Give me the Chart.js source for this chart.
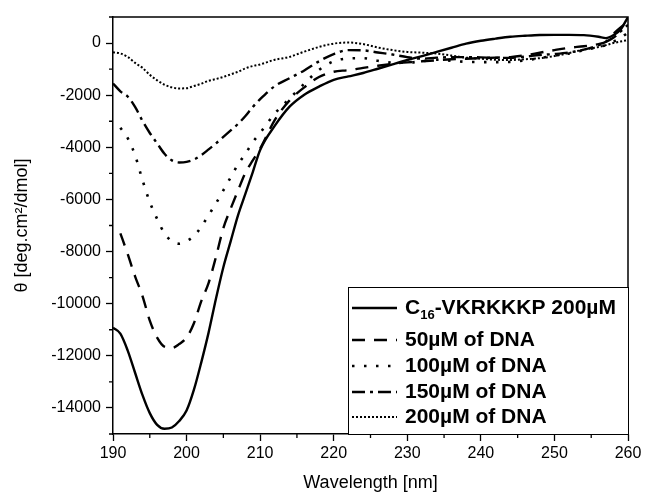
<!DOCTYPE html>
<html lang="en">
<head>
    <meta charset="UTF-8">
    <title>CD spectra</title>
    <style>
        html, body { margin: 0; padding: 0; background: #fff; }
        #wrap { width: 646px; height: 498px; }
    </style>
    <script src="https://cdn.jsdelivr.net/npm/chart.js"></script>
</head>
<body>
    <div id="wrap"><canvas id="cdChart" width="646" height="498"></canvas></div>

    <script>
        // wavelength points (nm)
        const wavelengths = [190,191,192,193,194,195,196,197,198,199,200,201,202,203,204,205,206,207,208,209,210,
            212,214,216,218,220,222,224,226,228,230,232,234,236,238,240,242,244,246,248,250,252,254,256,257,258,259,260];

        // molar ellipticity, deg.cm2/dmol
        const peptideOnly = [-10920,-11150,-11800,-12650,-13500,-14200,-14650,-14800,-14750,-14500,-14100,-13300,-12250,-11100,-9800,-8600,-7600,-6600,-5780,-4950,-4100,
            -3170,-2440,-1980,-1670,-1410,-1280,-1150,-985,-815,-650,-500,-340,-180,-20,90,170,240,280,310,315,315,305,240,190,300,520,1000];
        const dna50 = [null,-7300,-8100,-8950,-9700,-10650,-11300,-11650,-11700,-11550,-11300,-10750,-9900,-9200,-8200,-7100,-6350,-5650,-4980,-4500,-4050,
            -2950,-2200,-1700,-1300,-1100,-1040,-950,-870,-800,-740,-700,-660,-620,-600,-580,-560,-540,-470,-370,-270,-180,-120,-40,50,350,600,800];
        const dna100 = [null,-3250,-3650,-4300,-5250,-6100,-6750,-7300,-7600,-7700,-7600,-7400,-7050,-6600,-6150,-5650,-5150,-4650,-4250,-3800,-3450,
            -2700,-2130,-1560,-1030,-700,-590,-580,-680,-750,-750,-700,-640,-680,-720,-730,-730,-720,-660,-580,-480,-400,-270,-150,-80,50,200,400];
        const dna150 = [-1550,-1850,-2050,-2450,-2980,-3450,-3850,-4250,-4500,-4580,-4560,-4470,-4300,-4080,-3850,-3600,-3350,-3100,-2800,-2450,-2150,
            -1650,-1350,-1050,-700,-420,-270,-280,-360,-440,-540,-600,-560,-540,-540,-550,-570,-570,-520,-460,-420,-360,-250,-80,50,200,450,700];
        const dna200 = [-350,-400,-530,-760,-950,-1220,-1430,-1600,-1700,-1740,-1730,-1650,-1560,-1450,-1380,-1300,-1200,-1100,-970,-880,-820,
            -640,-530,-330,-150,-20,20,-40,-170,-270,-340,-370,-400,-480,-560,-600,-640,-650,-620,-580,-500,-380,-250,-150,-80,0,60,115];

        const seriesNames = ['C16-VKRKKKP 200\u00b5M', '50\u00b5M of DNA', '100\u00b5M of DNA', '150\u00b5M of DNA', '200\u00b5M of DNA'];
        const xTicks = [190,200,210,220,230,240,250,260];
        const yTicks = [-14000,-12000,-10000,-8000,-6000,-4000,-2000,0];

        const styles = [
            { dash: [], width: 2.4 },
            { dash: [13, 9], width: 2.4 },
            { dash: [2.5, 9.5], width: 2.6 },
            { dash: [13, 5, 3, 5], width: 2.4 },
            { dash: [2, 2], width: 2 }
        ];

        function pts(arr) {
            return wavelengths.map((w, i) => ({ x: w, y: arr[i] }));
        }

        const allSeries = [peptideOnly, dna50, dna100, dna150, dna200];
        const legendFont = '"Liberation Sans", Arial, sans-serif';

        // minor ticks, frame and in-plot legend
        const extrasPlugin = {
            id: 'extras',
            afterDraw(chart) {
                const ctx = chart.ctx;
                const a = chart.chartArea;
                const xs = chart.scales.x, ys = chart.scales.y;
                ctx.save();
                ctx.strokeStyle = '#000';
                ctx.lineWidth = 1.3;
                ctx.beginPath();
                for (let v = 195; v < 260; v += 10) {
                    const px = xs.getPixelForValue(v);
                    ctx.moveTo(px, a.bottom);
                    ctx.lineTo(px, a.bottom + 4);
                }
                for (let v = -15000; v <= 1000; v += 2000) {
                    const py = ys.getPixelForValue(v);
                    ctx.moveTo(a.left, py);
                    ctx.lineTo(a.left - 4, py);
                }
                ctx.stroke();

                // top and right frame
                ctx.lineWidth = 1.5;
                ctx.beginPath();
                ctx.moveTo(a.left, a.top);
                ctx.lineTo(a.right, a.top);
                ctx.lineTo(a.right, a.bottom);
                ctx.stroke();

                // legend box
                const bx = 348, by = 287, bw = a.right - bx, bh = a.bottom - by;
                ctx.fillStyle = '#fff';
                ctx.fillRect(bx, by, bw, bh);
                ctx.lineWidth = 1;
                ctx.strokeRect(bx + 0.5, by + 0.5, bw, bh);

                const rows = [308, 340, 366, 392, 417];
                ctx.fillStyle = '#000';
                ctx.textBaseline = 'middle';
                rows.forEach((ry, i) => {
                    ctx.beginPath();
                    ctx.setLineDash(styles[i].dash);
                    ctx.lineWidth = styles[i].width;
                    ctx.moveTo(352, ry);
                    ctx.lineTo(397, ry);
                    ctx.stroke();
                    ctx.setLineDash([]);
                    ctx.font = 'bold 21px ' + legendFont;
                    if (i === 0) {
                        ctx.fillText('C', 405, ry);
                        let tx = 405 + ctx.measureText('C').width;
                        ctx.font = 'bold 13px ' + legendFont;
                        ctx.fillText('16', tx, ry + 7);
                        tx += ctx.measureText('16').width;
                        ctx.font = 'bold 21px ' + legendFont;
                        ctx.fillText('-VKRKKKP 200\u00b5M', tx, ry);
                    } else {
                        ctx.fillText(seriesNames[i], 405, ry);
                    }
                });
                ctx.restore();
            }
        };

        const ctx = document.getElementById('cdChart').getContext('2d');
        window.myChart = new Chart(ctx, {
            type: 'line',
            data: {
                datasets: allSeries.map((s, i) => ({
                    label: seriesNames[i],
                    data: pts(s),
                    borderColor: '#000',
                    borderWidth: styles[i].width,
                    borderDash: styles[i].dash,
                    pointRadius: 0,
                    fill: false,
                    cubicInterpolationMode: 'monotone'
                }))
            },
            options: {
                responsive: false,
                animation: false,
                layout: { padding: { left: 7, right: 18, top: 17, bottom: 0 } },
                plugins: {
                    legend: { display: false },
                    tooltip: { enabled: false }
                },
                scales: {
                    x: {
                        type: 'linear',
                        min: 190,
                        max: 260,
                        afterBuildTicks: s => { s.ticks = xTicks.map(v => ({ value: v })); },
                        afterFit: s => { s.height = 64; },
                        ticks: { color: '#000', font: { size: 16, family: '"Liberation Sans", Arial' }, padding: 3, maxRotation: 0,
                            callback: v => String(v) },
                        grid: { drawOnChartArea: false, drawTicks: true, tickLength: 7, tickColor: '#000', tickWidth: 1.3 },
                        border: { display: true, color: '#000', width: 1.5 },
                        title: { display: true, text: 'Wavelength [nm]', color: '#000', font: { size: 18, family: '"Liberation Sans", Arial' }, padding: 4 }
                    },
                    y: {
                        min: -15000,
                        max: 1000,
                        afterBuildTicks: s => { s.ticks = yTicks.map(v => ({ value: v })); },
                        afterFit: s => { s.width = 106; },
                        ticks: { color: '#000', font: { size: 16, family: '"Liberation Sans", Arial' }, padding: 5,
                            callback: v => String(v) },
                        grid: { drawOnChartArea: false, drawTicks: true, tickLength: 7, tickColor: '#000', tickWidth: 1.3 },
                        border: { display: true, color: '#000', width: 1.5 },
                        title: { display: true, text: '\u03b8 [deg.cm\u00b2/dmol]', color: '#000', font: { size: 18, family: '"Liberation Sans", Arial' }, padding: 4 }
                    }
                }
            },
            plugins: [extrasPlugin]
        });
    </script>
</body>
</html>
